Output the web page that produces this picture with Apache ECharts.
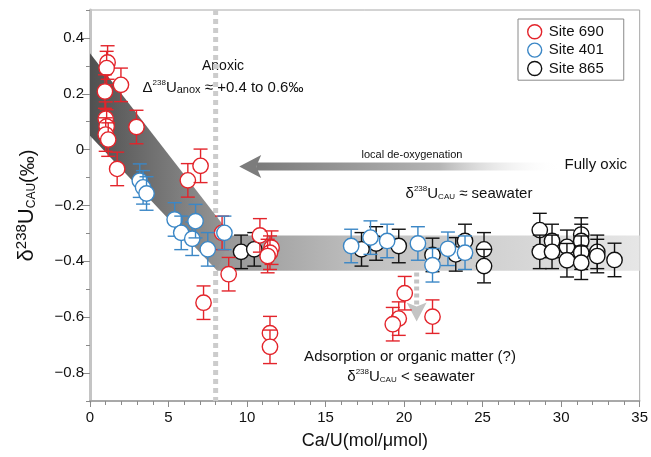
<!DOCTYPE html>
<html><head><meta charset="utf-8">
<script src="https://cdn.jsdelivr.net/npm/echarts@6/dist/echarts.min.js"></script>
<style>html,body{margin:0;padding:0;background:#fff}#c{width:651px;height:457px}</style>
</head><body><div id="c"></div>
<script>
// ---- data ----
const site690X = [1.12, 1.06, 1.97, 0.95, 1.00, 1.06, 1.00, 1.16, 2.96, 1.73, 6.23, 7.04, 7.23, 8.83, 8.41, 10.82, 11.56, 11.46, 11.31, 11.46, 11.46, 20.04, 19.66, 19.28, 21.81];
const site690Y = [0.312, 0.292, 0.232, 0.208, 0.111, 0.083, 0.054, 0.036, 0.081, -0.069, -0.110, -0.058, -0.548, -0.446, -0.298, -0.307, -0.351, -0.369, -0.381, -0.657, -0.706, -0.514, -0.605, -0.625, -0.598];
const site690E = [0.06, 0.06, 0.06, 0.06, 0.06, 0.06, 0.06, 0.06, 0.06, 0.06, 0.06, 0.06, 0.06, 0.06, 0.06, 0.06, 0.06, 0.06, 0.06, 0.06, 0.06, 0.06, 0.06, 0.06, 0.06];

const site401X = [3.17, 3.38, 3.60, 5.39, 5.81, 6.51, 6.72, 7.50, 8.56, 16.63, 17.86, 18.92, 20.88, 21.81, 22.79, 23.88];
const site401Y = [-0.111, -0.135, -0.157, -0.250, -0.298, -0.319, -0.256, -0.357, -0.298, -0.345, -0.315, -0.327, -0.336, -0.414, -0.355, -0.369];
const site401E = [0.06, 0.06, 0.06, 0.06, 0.06, 0.06, 0.06, 0.06, 0.06, 0.06, 0.06, 0.06, 0.06, 0.06, 0.06, 0.06];

const site865X = [9.62, 10.46, 17.29, 18.22, 19.66, 21.81, 23.29, 23.88, 25.09, 25.09, 28.64, 28.64, 29.42, 29.42, 30.37, 30.37, 31.28, 31.28, 31.28, 31.28, 32.30, 32.30, 33.40];
const site865Y = [-0.366, -0.357, -0.357, -0.336, -0.345, -0.377, -0.375, -0.327, -0.357, -0.417, -0.288, -0.366, -0.327, -0.366, -0.348, -0.396, -0.304, -0.327, -0.369, -0.405, -0.366, -0.381, -0.395];
const site865E = [0.06, 0.06, 0.06, 0.06, 0.06, 0.06, 0.06, 0.06, 0.06, 0.06, 0.06, 0.06, 0.06, 0.06, 0.06, 0.06, 0.06, 0.06, 0.06, 0.06, 0.06, 0.06, 0.06];

const seriesNames = ['Site 690', 'Site 401', 'Site 865'];
const yLabelValues = [-0.8, -0.6, -0.4, -0.2, 0, 0.2, 0.4];

// ---- styling ----
const RED = '#e3242b', BLUE = '#3b87c6', BLACK = '#111111';
const FONT = 'Liberation Sans, Arial, Helvetica, sans-serif';

function zip(xs, ys, es) { return xs.map((x, i) => [x, ys[i], es[i]]); }

function pointRenderer(color) {
  return function (params, api) {
    const x = api.value(0), y = api.value(1), e = api.value(2);
    const c = api.coord([x, y]);
    const t = api.coord([x, y + e]);
    const b = api.coord([x, y - e]);
    const hw = 7, r = 7.7, lw = 1.4;
    return {
      type: 'group',
      children: [
        { type: 'line', shape: { x1: c[0], y1: t[1], x2: c[0], y2: b[1] }, style: { stroke: color, lineWidth: lw } },
        { type: 'line', shape: { x1: c[0] - hw, y1: t[1], x2: c[0] + hw, y2: t[1] }, style: { stroke: color, lineWidth: lw } },
        { type: 'line', shape: { x1: c[0] - hw, y1: b[1], x2: c[0] + hw, y2: b[1] }, style: { stroke: color, lineWidth: lw } },
        { type: 'circle', shape: { cx: c[0], cy: c[1], r: r }, style: { fill: '#fff', stroke: color, lineWidth: lw } }
      ]
    };
  };
}

// annotation geometry in data units
const diagBand = [[0, 0.345], [9.0, -0.307], [8.1, -0.434], [0, 0.05]];
const flatBand = [[8.1, -0.307], [35, -0.307], [35, -0.434], [8.1, -0.434]];
const anoxLineX = 8;
const leftArrow = { tipX: 9.5, y: -0.06, endX: 30 };
const downArrow = { x: 20.8, y0: -0.44, tipY: -0.615 };

function annotationRenderer(params, api) {
  const diag = diagBand.map(p => api.coord(p));
  const flat = flatBand.map(p => api.coord(p));
  const top = api.coord([anoxLineX, 0.5]);
  const bot = api.coord([anoxLineX, -0.9]);
  const tip = api.coord([leftArrow.tipX, leftArrow.y]);
  const aEnd = api.coord([leftArrow.endX, leftArrow.y]);
  const d0 = api.coord([downArrow.x, downArrow.y0]);
  const dt = api.coord([downArrow.x, downArrow.tipY]);
  const hl = 22, hh = 11.5, notch = 5, sh = 4;
  return {
    type: 'group',
    children: [
      { type: 'line', shape: { x1: top[0], y1: top[1], x2: bot[0], y2: bot[1] }, style: { stroke: '#cccccc', lineWidth: 5, lineDash: [5, 4] } },
      { type: 'polygon', shape: { points: flat }, style: { fill: new echarts.graphic.LinearGradient(0, 0, 1, 0, [{ offset: 0, color: '#959595' }, { offset: 0.35, color: '#c0c0c0' }, { offset: 1, color: '#e6e6e6' }]) } },
      { type: 'polygon', shape: { points: diag }, style: { fill: new echarts.graphic.LinearGradient(0, 0, 1, 0, [{ offset: 0, color: '#505050' }, { offset: 1, color: '#999999' }]) } },
      // left arrow shaft
      { type: 'rect', shape: { x: tip[0] + hl - notch, y: tip[1] - sh, width: aEnd[0] - (tip[0] + hl - notch), height: sh * 2 },
        style: { fill: new echarts.graphic.LinearGradient(0, 0, 1, 0, [{ offset: 0, color: '#7a7a7a' }, { offset: 0.6, color: '#b5b5b5' }, { offset: 1, color: 'rgba(255,255,255,0)' }]) } },
      { type: 'polygon', shape: { points: [[tip[0], tip[1]], [tip[0] + hl, tip[1] - hh], [tip[0] + hl - notch, tip[1]], [tip[0] + hl, tip[1] + hh]] }, style: { fill: '#7c7c7c' } },
      // down arrow
      { type: 'line', shape: { x1: d0[0], y1: d0[1], x2: d0[0], y2: dt[1] - 16 }, style: { stroke: '#c4c4c4', lineWidth: 5, lineDash: [4, 3] } },
      { type: 'polygon', shape: { points: [[dt[0], dt[1]], [dt[0] - 10, dt[1] - 19], [dt[0], dt[1] - 15], [dt[0] + 10, dt[1] - 19]] }, style: { fill: '#c4c4c4' } }
    ]
  };
}

const chart = echarts.init(document.getElementById('c'), null, { renderer: 'canvas' });
const minus = v => (v === 0 ? '0' : v.toFixed(1).replace('-', '\u2212'));

function richSet(main, sup, sub) {
  return {
    m: { fontSize: main, lineHeight: main + 1, verticalAlign: 'bottom', fontFamily: FONT, fill: '#111', color: '#111' },
    s: { fontSize: sup, lineHeight: main + 1, verticalAlign: 'top', fontFamily: FONT, fill: '#111', color: '#111' },
    b: { fontSize: sub, lineHeight: main + 1, verticalAlign: 'bottom', fontFamily: FONT, fill: '#111', color: '#111' }
  };
}

chart.setOption({
  animation: false,
  backgroundColor: '#fff',
  textStyle: { fontFamily: FONT },
  grid: { left: 90, right: 9, top: 10, bottom: 56, show: true, borderColor: '#a8a8a8', borderWidth: 1 },
  legend: {
    orient: 'vertical', left: 518, top: 19,
    padding: [5, 20, 4, 9], itemGap: 3, itemWidth: 14, itemHeight: 14,
    borderColor: '#8a8a8a', borderWidth: 1,
    textStyle: { fontSize: 15, color: '#111', fontFamily: FONT, padding: [0, 0, 0, 2] },
    data: [
      { name: seriesNames[0], icon: 'circle', itemStyle: { color: '#fff', borderColor: RED, borderWidth: 1.4 } },
      { name: seriesNames[1], icon: 'circle', itemStyle: { color: '#fff', borderColor: BLUE, borderWidth: 1.4 } },
      { name: seriesNames[2], icon: 'circle', itemStyle: { color: '#fff', borderColor: BLACK, borderWidth: 1.4 } }
    ]
  },
  xAxis: {
    type: 'value', min: 0, max: 35, interval: 5,
    axisLine: { onZero: false, lineStyle: { color: '#9a9a9a', width: 1.5 } },
    axisTick: { length: 6, lineStyle: { color: '#8a8a8a', width: 1 } },
    minorTick: { show: true, splitNumber: 5, length: 4, lineStyle: { color: '#8a8a8a', width: 1 } },
    splitLine: { show: false },
    axisLabel: { fontSize: 15, color: '#111', margin: 9, fontFamily: FONT },
    name: 'Ca/U(mol/\u03bcmol)', nameLocation: 'middle', nameGap: 31,
    nameTextStyle: { fontSize: 18, color: '#111', fontFamily: FONT }
  },
  yAxis: [
    {
      type: 'value', min: -0.9, max: 0.5, interval: 0.1,
      axisLine: { onZero: false, lineStyle: { color: '#c4c4c4', width: 3 } },
      axisTick: { length: 4, lineStyle: { color: '#8a8a8a', width: 1 } },
      axisLabel: { show: false },
      splitLine: { show: false },
      name: '{d|\u03b4}{s|238}{u|U}{b|CAU}{p|(\u2030)}',
      nameLocation: 'middle', nameGap: 52,
      nameTextStyle: {
        color: '#111', fontFamily: FONT,
        rich: {
          d: { fontSize: 22, lineHeight: 24, verticalAlign: 'bottom', fontFamily: FONT, color: '#111' },
          s: { fontSize: 15, lineHeight: 24, verticalAlign: 'top', fontFamily: FONT, color: '#111' },
          u: { fontSize: 22, lineHeight: 24, verticalAlign: 'bottom', fontFamily: FONT, color: '#111' },
          b: { fontSize: 12, lineHeight: 24, verticalAlign: 'bottom', fontFamily: FONT, color: '#111' },
          p: { fontSize: 20, lineHeight: 24, verticalAlign: 'bottom', fontFamily: FONT, color: '#111' }
        }
      }
    },
    {
      type: 'value', min: -0.9, max: 0.5, interval: 0.1, position: 'left',
      axisLine: { show: false, onZero: false },
      axisTick: { show: true, length: 8, customValues: yLabelValues, lineStyle: { color: '#8a8a8a', width: 1 } },
      axisLabel: { fontSize: 15, color: '#111', margin: 6, customValues: yLabelValues, formatter: minus, fontFamily: FONT },
      splitLine: { show: false }
    }
  ],
  series: [
    { type: 'custom', name: 'annot', silent: true, z: 1, renderItem: annotationRenderer, data: [[0, 0]], encode: { x: 0, y: 1 } },
    { type: 'custom', name: seriesNames[2], z: 3, renderItem: pointRenderer(BLACK), itemStyle: { color: '#fff', borderColor: BLACK }, encode: { x: 0, y: 1 }, data: zip(site865X, site865Y, site865E) },
    { type: 'custom', name: seriesNames[0], z: 4, renderItem: pointRenderer(RED), itemStyle: { color: '#fff', borderColor: RED }, encode: { x: 0, y: 1 }, data: zip(site690X, site690Y, site690E) },
    { type: 'custom', name: seriesNames[1], z: 5, renderItem: pointRenderer(BLUE), itemStyle: { color: '#fff', borderColor: BLUE }, encode: { x: 0, y: 1 }, data: zip(site401X, site401Y, site401E) }
  ],
  graphic: [
    { type: 'text', x: 223, y: 66, style: { text: 'Anoxic', fontSize: 14, fontFamily: FONT, fill: '#111', align: 'center', verticalAlign: 'middle' } },
    { type: 'text', x: 223, y: 87, style: {
        text: '{m|\u0394}{s|238}{m|U}{b|anox}{m| \u2248 +0.4 to 0.6\u2030}', align: 'center', verticalAlign: 'middle', fontFamily: FONT, fill: '#111',
        rich: richSet(15, 8, 11) } },
    { type: 'text', x: 412, y: 155, style: { text: 'local de-oxygenation', fontSize: 11, fontFamily: FONT, fill: '#111', align: 'center', verticalAlign: 'middle' } },
    { type: 'text', x: 627, y: 165, style: { text: 'Fully oxic', fontSize: 15, fontFamily: FONT, fill: '#111', align: 'right', verticalAlign: 'middle' } },
    { type: 'text', x: 469, y: 193, style: {
        text: '{m|\u03b4}{s|238}{m|U}{b|CAU}{m| \u2248 seawater}', align: 'center', verticalAlign: 'middle', fontFamily: FONT, fill: '#111',
        rich: richSet(15, 8, 8) } },
    { type: 'text', x: 410, y: 357, style: { text: 'Adsorption or organic matter (?)', fontSize: 15, fontFamily: FONT, fill: '#111', align: 'center', verticalAlign: 'middle' } },
    { type: 'text', x: 411, y: 376, style: {
        text: '{m|\u03b4}{s|238}{m|U}{b|CAU}{m| < seawater}', align: 'center', verticalAlign: 'middle', fontFamily: FONT, fill: '#111',
        rich: richSet(15, 8, 8) } }
  ]
});
</script>
</body></html>
